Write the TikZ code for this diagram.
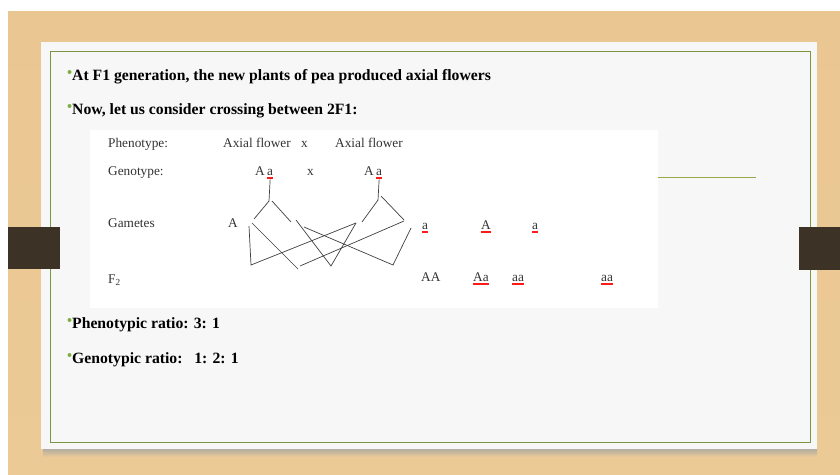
\documentclass[tikz,border=0pt]{standalone}
\usepackage{fontspec}
\setmainfont{Liberation Serif}
\usetikzlibrary{positioning}

\definecolor{woodtop}{HTML}{EAC692}
\definecolor{wood}{HTML}{E2B679}
\definecolor{woodbot}{HTML}{EBCA96}
\definecolor{card}{HTML}{F7F7F7}
\definecolor{frame}{HTML}{7A9640}
\definecolor{tab}{HTML}{3D3226}
\definecolor{dotgreen}{HTML}{7FAE45}
\definecolor{rulegreen}{HTML}{9AA84A}
\definecolor{squiggle}{HTML}{FF1A1A}

\begin{document}
\begin{tikzpicture}[x=1pt,y=-1pt,every node/.style={inner sep=0pt,anchor=base west},
	bullet/.style={font=\fontsize{15.7}{18}\selectfont\bfseries,text=black},
	small/.style={font=\fontsize{13.3}{15}\selectfont,text=black!80},
	spell/.style={fill=squiggle},
	cross/.style={black!75,line width=0.7pt}]
	\useasboundingbox (0,0) rectangle (840,474);
	% Wood background
	\fill[white] (0,0) rectangle (840,474);
	\shade[top color=woodtop,middle color=wood,bottom color=woodbot] (8,11) rectangle (840,474);
	% Card with shadow
	\shade[top color=black!35,bottom color=woodbot] (43,447) rectangle (817,457);
	\fill[card] (41,42) rectangle (817,449);
	\draw[frame,line width=0.8pt] (50,51) rectangle (810,442);
	\fill[tab] (8,227) rectangle (60,269);
	\fill[tab] (799,227) rectangle (840,270);
	% Pasted diagram
	\fill[white] (90,130) rectangle (658,308);
	\draw[rulegreen,line width=1pt] (658,177) -- (756,177);

	% Bullet lines
	\node[bullet] (l1) at (72,80) {At F1 generation, the new plants of pea produced axial flowers};
	\node[bullet] (l2) at (72,114) {Now, let us consider crossing between 2F1:};
	\node[bullet] (l3) at (72,328) {Phenotypic ratio: 3: 1};
	\node[bullet] (l4) at (72,363) {Genotypic ratio:\ \ \ 1: 2: 1};
	\foreach \n in {l1,l2,l3,l4}
		\fill[dotgreen] ([xshift=-2.5pt,yshift=8pt]\n.base west) circle (2pt);

	% Cross table
	\node[small] (phen) at (108,147) {Phenotype:};
	\node[small] (gen) at (108,175) {Genotype:};
	\node[small] (gam) at (108,227) {Gametes};
	\node[small] (ftwo) at (108,283) {F\textsubscript{2}};
	\node[small] (ax1) at (223,147) {Axial flower};
	\node[small] (x1) at (301,147) {x};
	\node[small] (ax2) at (335,147) {Axial flower};
	\node[small] (g1A) at (255,175) {A};
	\node[small] (g1a) at (267,175) {a};
	\node[small] (x2) at (307,175) {x};
	\node[small] (g2A) at (364,175) {A};
	\node[small] (g2a) at (376,175) {a};
	\node[small] (m1) at (228,227) {A};
	\node[small] (m2) at (422,229) {a};
	\node[small] (m3) at (481,229) {A};
	\node[small] (m4) at (532,229) {a};
	\node[small] (f1) at (421,281) {AA};
	\node[small] (f2) at (473,281) {Aa};
	\node[small] (f3) at (512,281) {aa};
	\node[small] (f4) at (601,281) {aa};
	% spelling marks
	\foreach \n in {g1a,g2a,m2,m3,m4,f2,f3,f4}
		\path[spell] ([yshift=-1.5pt]\n.base west) rectangle ([yshift=-3.5pt]\n.base east);

	% Gamete branches
	\coordinate (k1) at (269,201);
	\coordinate (k2) at (378,200);
	\draw[cross] (g1a.south) ++(0,4) -- (k1);
	\draw[cross] (g2a.south) ++(0,4) -- (k2);
	\draw[cross] (k1) -- (254,219);
	\draw[cross] ([xshift=3pt]k1) -- (291,222);
	\draw[cross] (k2) -- (362,222);
	\draw[cross] ([xshift=3pt,yshift=4pt]k2) -- (404,220);
	% Crossing lines
	\draw[cross] (249,226) -- (251,265) -- (356,223);
	\draw[cross] (252,223) -- (298,269);
	\draw[cross] (300,266) -- (404,221);
	\draw[cross] (296,220) -- (331,266) -- (356,223);
	\draw[cross] (304,227) -- (393,265) -- (411,228);
\end{tikzpicture}
\end{document}
